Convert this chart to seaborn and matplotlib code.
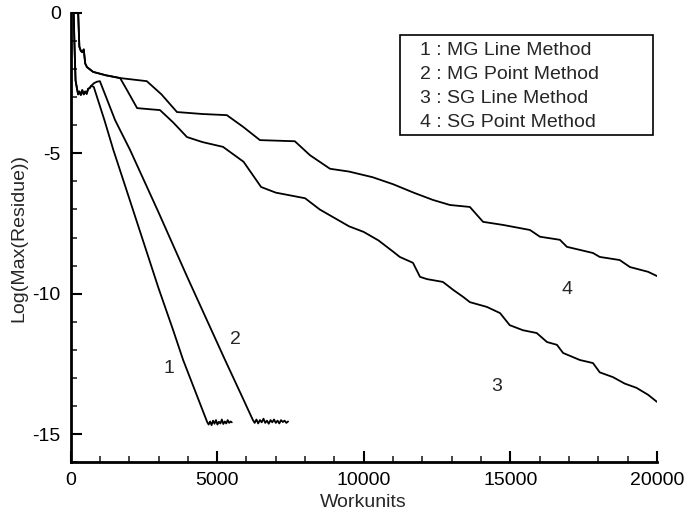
import pandas as pd
import matplotlib.pyplot as plt
import seaborn as sns
from matplotlib.lines import Line2D
from matplotlib.patches import Rectangle
from matplotlib.ticker import MultipleLocator

# convergence histories (workunits, log10 of max residue)
mg_line_x = [0, 100, 130, 170, 220, 260, 300, 350, 400, 450, 500, 550, 600, 650, 700, 790, 1150, 1460,
             2000, 2500, 3000, 3500, 3840, 4300, 4660,
             4710, 4760, 4810, 4860, 4910, 4960, 5010, 5060, 5110, 5160, 5210, 5260, 5310, 5360, 5410, 5460, 5500]
mg_line_y = [0.3, 0.3, -1.0, -2.4, -2.7, -2.9, -2.8, -2.92, -2.75, -2.9, -2.8, -2.88, -2.7, -2.68, -2.6, -2.63, -3.8, -4.88,
             -6.6, -8.2, -9.8, -11.3, -12.36, -13.6, -14.57,
             -14.66, -14.55, -14.68, -14.52, -14.63, -14.5, -14.66, -14.56, -14.62, -14.48, -14.64, -14.55, -14.62,
             -14.5, -14.6, -14.55, -14.58]

mg_point_x = [0, 100, 130, 170, 220, 260, 300, 350, 400, 450, 500, 550, 600, 650, 700, 800, 900, 1000,
              1520, 2030, 3000, 4000, 5270, 5800, 6220,
              6280, 6340, 6400, 6460, 6520, 6580, 6640, 6700, 6760, 6820, 6880, 6940, 7000, 7060, 7120,
              7180, 7240, 7300, 7360, 7420]
mg_point_y = [0.3, 0.3, -1.0, -2.4, -2.7, -2.9, -2.8, -2.92, -2.75, -2.9, -2.8, -2.88, -2.7, -2.68, -2.6, -2.5, -2.45, -2.43,
              -3.82, -4.88, -7.1, -9.45, -12.36, -13.55, -14.5,
              -14.6, -14.48, -14.62, -14.5, -14.58, -14.45, -14.6, -14.52, -14.63, -14.5, -14.58, -14.48, -14.6,
              -14.52, -14.62, -14.5, -14.57, -14.52, -14.6, -14.55]

sg_line_x = [0, 250, 300, 350, 400, 450, 500, 560, 770, 1200, 1690, 1900, 2270, 2700, 3050, 3500, 3970,
             4500, 5200, 5900, 6500, 7000, 8000, 8500, 9000, 9500, 10000, 10500, 11000, 11230, 11680,
             11920, 12160, 12700, 13060, 13400, 13620, 14200, 14650, 14980, 15430, 15900, 16250, 16590,
             16800, 17370, 17820, 18050, 18500, 18900, 19300, 19700, 20000]
sg_line_y = [0.3, 0.3, -1.2, -1.35, -1.4, -1.3, -1.8, -1.93, -2.1, -2.22, -2.32, -2.7, -3.39, -3.43, -3.46, -3.9, -4.42,
             -4.6, -4.77, -5.3, -6.2, -6.4, -6.6, -7.0, -7.3, -7.6, -7.8, -8.1, -8.5, -8.69, -8.9,
             -9.4, -9.48, -9.58, -9.87, -10.12, -10.3, -10.47, -10.69, -11.12, -11.3, -11.4, -11.72, -11.82,
             -12.11, -12.36, -12.47, -12.8, -12.97, -13.2, -13.35, -13.6, -13.85]

sg_point_x = [0, 250, 300, 350, 400, 450, 500, 560, 770, 1200, 1690, 2600, 3100, 3630, 4500, 5330, 5890,
              6460, 7650, 8170, 8850, 9500, 10300, 11000, 11700, 12360, 12940, 13620, 14070, 14750,
              15670, 16010, 16690, 16930, 17820, 18050, 18730, 19080, 19700, 20000]
sg_point_y = [0.3, 0.3, -1.2, -1.35, -1.4, -1.3, -1.8, -1.93, -2.1, -2.22, -2.32, -2.43, -2.9, -3.53, -3.6, -3.64, -4.06,
              -4.53, -4.57, -5.07, -5.55, -5.65, -5.85, -6.1, -6.4, -6.66, -6.84, -6.91, -7.44, -7.55,
              -7.73, -7.97, -8.08, -8.33, -8.55, -8.69, -8.8, -9.05, -9.22, -9.37]

labels = ["1 : MG Line Method", "2 : MG Point Method", "3 : SG Line Method", "4 : SG Point Method"]
series = [(mg_line_x, mg_line_y), (mg_point_x, mg_point_y), (sg_line_x, sg_line_y), (sg_point_x, sg_point_y)]
tags = ["1", "2", "3", "4"]
tag_x = [3360, 5640, 14540, 16930]
tag_y = [-12.68, -11.64, -13.31, -9.86]

sns.set_style("ticks")
plt.rcParams['font.family'] = ['Liberation Sans', 'DejaVu Sans']
plt.rcParams['axes.unicode_minus'] = False

fig = plt.figure(figsize=(6.85, 5.17), dpi=100)
ax = fig.add_axes([0.103, 0.106, 0.856, 0.869])

for (xs, ys), lab in zip(series, labels):
    df = pd.DataFrame({'Workunits': xs, 'res': ys})
    sns.lineplot(data=df, x='Workunits', y='res', ax=ax, color='black', lw=1.3,
                 estimator=None, sort=False)

for t, tx, ty in zip(tags, tag_x, tag_y):
    ax.text(tx, ty, t, fontsize=14, ha='center', va='center')

ax.set_xlim(0, 20000)
ax.set_ylim(-16, 0)
ax.xaxis.set_major_locator(MultipleLocator(5000))
ax.xaxis.set_minor_locator(MultipleLocator(1000))
ax.yaxis.set_major_locator(MultipleLocator(5))
ax.yaxis.set_minor_locator(MultipleLocator(1))
ax.tick_params(which='major', direction='in', length=8, width=1.5, labelsize=14, pad=7, colors='black')
ax.tick_params(which='minor', direction='in', length=4, width=1.2)
sns.despine(ax=ax)
for s in ['left', 'bottom']:
    ax.spines[s].set_linewidth(2)
    ax.spines[s].set_color('black')

ax.set_xlabel('Workunits', fontsize=14)
ax.set_ylabel('Log(Max(Residue))', fontsize=14)

# legend: text only, inside a wider box
ax.add_patch(Rectangle((0.562, 0.728), 0.431, 0.223, transform=ax.transAxes,
                       facecolor='white', edgecolor='black', lw=1.2, zorder=4))
handles = [Line2D([], [], color='none') for _ in labels]
leg = ax.legend(handles, labels, loc='upper left', bbox_to_anchor=(0.585, 0.951),
                borderaxespad=0, handlelength=0, handletextpad=0, fontsize=14,
                frameon=False, labelspacing=0.32, borderpad=0.35)
leg.set_zorder(5)

fig.savefig('out.png', dpi=100)
